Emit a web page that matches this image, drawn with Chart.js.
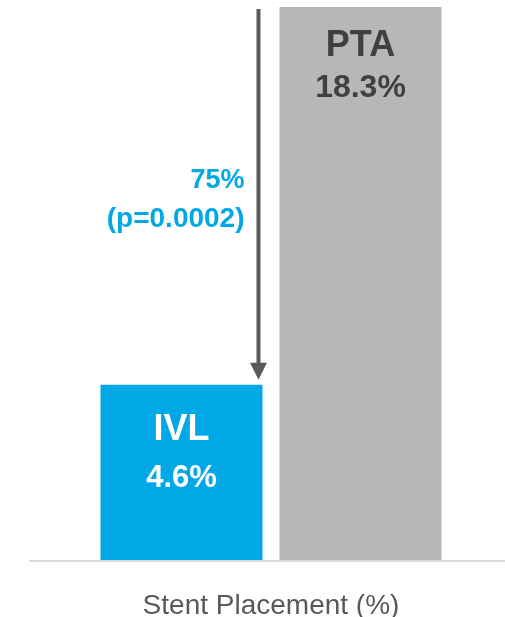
<!DOCTYPE html>
<html>
<head>
<meta charset="utf-8">
<script src="https://cdn.jsdelivr.net/npm/chart.js@4.4.1/dist/chart.umd.min.js"></script>
<style>
  html, body { margin: 0; padding: 0; background: #fff; }
  canvas { display: block; }
</style>
</head>
<body>
<canvas id="chart" width="505" height="617"></canvas>
<script>
const categories = ['IVL', 'PTA'];
// bar heights as drawn in the picture (the IVL bar is not to scale)
const barHeights = [5.8, 18.3];
const rateLabels = ['4.6%', '18.3%'];
const reductionLabel = '75%';
const pValueLabel = '(p=0.0002)';
const axisTitle = 'Stent Placement (%)';

const FONT = '"Liberation Sans", Arial, sans-serif';

const overlayPlugin = {
  id: 'overlay',
  afterDatasetsDraw(chart) {
    const ctx = chart.ctx;
    const area = chart.chartArea;
    const bars = chart.getDatasetMeta(0).data;
    ctx.save();

    // baseline
    ctx.strokeStyle = '#d9d9d9';
    ctx.lineWidth = 2;
    ctx.beginPath();
    ctx.moveTo(area.left - 63, area.bottom + 1);
    ctx.lineTo(chart.width, area.bottom + 1);
    ctx.stroke();

    // labels inside bars
    const nameColors = ['#ffffff', '#404040'];
    const nameSizes = [36, 36];
    const valueSizes = [31, 32];
    const nameOffsets = [55, 49];
    const valueOffsets = [102, 90];
    ctx.textAlign = 'center';
    ctx.textBaseline = 'alphabetic';
    bars.forEach((bar, i) => {
      ctx.fillStyle = nameColors[i];
      ctx.font = `bold ${nameSizes[i]}px ${FONT}`;
      ctx.fillText(categories[i], bar.x, bar.y + nameOffsets[i]);
      ctx.font = `bold ${valueSizes[i]}px ${FONT}`;
      ctx.fillText(rateLabels[i], bar.x, bar.y + valueOffsets[i]);
    });

    // arrow from PTA level down to IVL bar
    const ivl = bars[0];
    const pta = bars[1];
    const ax = ivl.x + ivl.width / 2 - 4;
    const yTop = pta.y + 2;
    const yTip = ivl.y - 5;
    ctx.strokeStyle = '#5a5a56';
    ctx.fillStyle = '#5a5a56';
    ctx.lineWidth = 4;
    ctx.beginPath();
    ctx.moveTo(ax, yTop);
    ctx.lineTo(ax, yTip - 14);
    ctx.stroke();
    ctx.beginPath();
    ctx.moveTo(ax - 8.5, yTip - 17);
    ctx.lineTo(ax + 8.5, yTip - 17);
    ctx.lineTo(ax, yTip);
    ctx.closePath();
    ctx.fill();

    // reduction annotation
    const mid = (yTop + yTip) / 2;
    ctx.fillStyle = '#00a9e6';
    ctx.textAlign = 'right';
    ctx.font = `bold 27px ${FONT}`;
    ctx.fillText(reductionLabel, ax - 14, mid - 6);
    ctx.font = `bold 28px ${FONT}`;
    ctx.fillText(pValueLabel, ax - 14, mid + 33);

    // axis title
    ctx.fillStyle = '#595959';
    ctx.textAlign = 'center';
    ctx.font = `28px ${FONT}`;
    ctx.fillText(axisTitle, (area.left + area.right) / 2, area.bottom + 54);

    ctx.restore();
  }
};

new Chart(document.getElementById('chart'), {
  type: 'bar',
  data: {
    labels: categories,
    datasets: [{
      data: barHeights,
      backgroundColor: ['#00a9e6', '#b7b7b7'],
      borderWidth: 0,
      categoryPercentage: 1,
      barPercentage: 0.905,
    }],
  },
  options: {
    responsive: false,
    animation: false,
    layout: {
      padding: { left: 92, right: 55, top: 7, bottom: 57 }
    },
    scales: {
      x: { display: false },
      y: { display: false, min: 0, max: 18.3 },
    },
    plugins: {
      legend: { display: false },
      tooltip: { enabled: false },
    },
  },
  plugins: [overlayPlugin],
});
</script>
</body>
</html>
